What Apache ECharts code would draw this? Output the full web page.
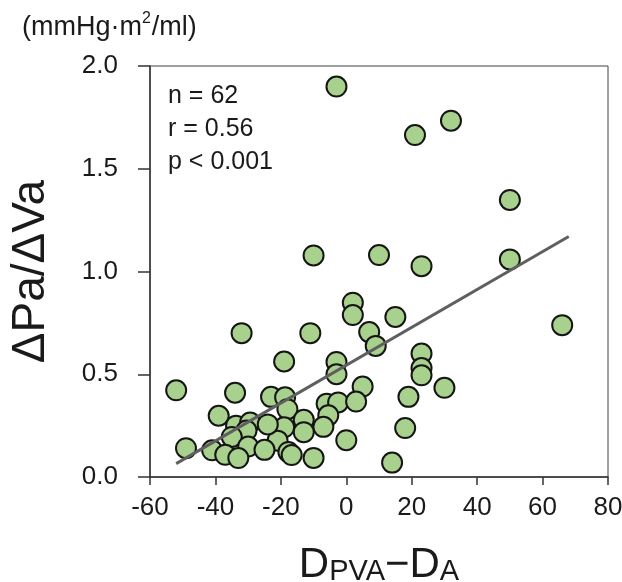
<!DOCTYPE html>
<html><head><meta charset="utf-8">
<script src="https://cdn.jsdelivr.net/npm/echarts@6/dist/echarts.min.js"></script>
<style>html,body{margin:0;padding:0;background:#fff}#c{width:622px;height:582px}</style>
</head><body><div id="c"></div>
<script>
// D_PVA - D_A (x) and ΔPa/ΔVa (y)
const dpvaMinusDa = [-3, 21, 32, 50, 50, 66, 10, 23, -10, 15,
  2, 2, -32, -11, 7, 9, 23, 23, 23, -19,
  -3, -3, 5, 30, 19, 18, 14, -52, -34, -23,
  -18.7, -18, -6, -2.5, 3, -5.5, -13, -7, -19, -13,
  -21, 0, -17.7, -16.7, -10, -39, -33.7, -29.4, -30.5, -24,
  -35, -30, -41, -49, -37, -33, -25];
const dPaOverDVa = [1.90, 1.664, 1.734, 1.348, 1.059, 0.739, 1.08, 1.026, 1.078, 0.779,
  0.848, 0.788, 0.70, 0.70, 0.705, 0.638, 0.601, 0.53, 0.495, 0.562,
  0.56, 0.50, 0.44, 0.434, 0.39, 0.238, 0.07, 0.422, 0.41, 0.39,
  0.388, 0.33, 0.357, 0.363, 0.367, 0.30, 0.278, 0.244, 0.242, 0.218,
  0.177, 0.179, 0.122, 0.107, 0.093, 0.298, 0.25, 0.265, 0.226, 0.256,
  0.195, 0.148, 0.13, 0.14, 0.108, 0.092, 0.132];
// regression line end points
const fitX = [-52, 68];
const fitY = [0.065, 1.17];
// axes
const xMin = -60, xMax = 80, xStep = 20;
const yMin = 0, yMax = 2, yStep = 0.5;
const statsLines = ['n = 62', 'r = 0.56', 'p < 0.001'];
const unitText = ['(mmHg·m', '2', '/ml)'];
const yTitle = 'ΔPa/ΔVa';
const xTitle = ['D', 'PVA', '−D', 'A'];

const FONT = "'Liberation Sans', Arial, sans-serif";
const points = dpvaMinusDa.map((x, i) => [x, dPaOverDVa[i]]);
const fitLine = fitX.map((x, i) => [x, fitY[i]]);

const chart = echarts.init(document.getElementById('c'), null, {renderer: 'canvas'});
chart.setOption({
  animation: false,
  backgroundColor: '#ffffff',
  grid: {left: 150, right: 14, top: 66, bottom: 105, show: true, borderColor: '#404040', borderWidth: 1,
         containLabel: false, outerBoundsMode: 'none'},
  title: {
    left: 22, top: 11, padding: 0,
    text: '{t|' + unitText[0] + '}{s|' + unitText[1] + '}{t|' + unitText[2] + '}',
    textStyle: {
      fontWeight: 'normal',
      rich: {
        t: {fontFamily: FONT, fontSize: 27, fontWeight: 'normal', color: '#1a1a1a', lineHeight: 30, verticalAlign: 'bottom'},
        s: {fontFamily: FONT, fontSize: 16, fontWeight: 'normal', color: '#1a1a1a', lineHeight: 30, verticalAlign: 'top', padding: [0,1,0,0]}
      }
    }
  },
  xAxis: {
    type: 'value', min: xMin, max: xMax, interval: xStep,
    axisLine: {show: true, onZero: false, lineStyle: {color: '#333', width: 1.5}},
    axisTick: {show: true, length: 8, lineStyle: {color: '#333', width: 1.5}},
    splitLine: {show: false},
    axisLabel: {fontFamily: FONT, fontSize: 26, color: '#1a1a1a', margin: 18},
    name: '{b|' + xTitle[0] + '}{s|' + xTitle[1] + '}{b|' + xTitle[2] + '}{s|' + xTitle[3] + '}',
    nameLocation: 'middle', nameGap: 67,
    nameTextStyle: {
      rich: {
        b: {fontFamily: FONT, fontSize: 42, color: '#1a1a1a', lineHeight: 42, verticalAlign: 'bottom'},
        s: {fontFamily: FONT, fontSize: 29, color: '#1a1a1a', lineHeight: 33, verticalAlign: 'bottom'}
      }
    }
  },
  yAxis: {
    type: 'value', min: yMin, max: yMax, interval: yStep,
    axisLine: {show: true, onZero: false, lineStyle: {color: '#333', width: 1.5}},
    axisTick: {show: true, length: 12, lineStyle: {color: '#333', width: 1.5}},
    splitLine: {show: false},
    axisLabel: {fontFamily: FONT, fontSize: 26, color: '#1a1a1a', margin: 32, formatter: v => v.toFixed(1)},
    name: yTitle, nameLocation: 'middle', nameGap: 96, nameRotate: 90,
    nameTextStyle: {fontFamily: FONT, fontSize: 46, color: '#1a1a1a'}
  },
  graphic: [{
    type: 'text', left: 168, top: 80, z: 10,
    style: {text: statsLines.join('\n'), font: '25px ' + FONT, fill: '#1a1a1a', lineHeight: 33}
  }],
  series: [
    {
      type: 'scatter', data: points, symbol: 'circle', symbolSize: 20,
      itemStyle: {color: '#a9d18e', borderColor: '#151515', borderWidth: 2, opacity: 1},
      z: 2
    },
    {
      type: 'line', data: fitLine, symbol: 'none',
      lineStyle: {color: '#5f5f5f', width: 3}, z: 3
    }
  ]
});
</script>
</body></html>
